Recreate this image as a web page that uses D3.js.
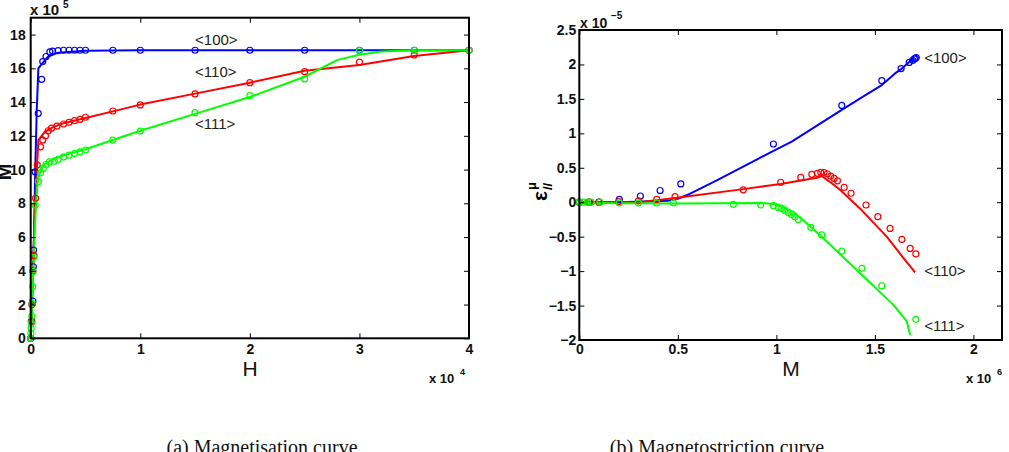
<!DOCTYPE html>
<html><head><meta charset="utf-8">
<script src="https://cdn.jsdelivr.net/npm/d3@7"></script>
<style>body{margin:0;background:#fff} svg{display:block}</style>
</head><body><svg id="c" width="1009" height="452"></svg>
<script>
// ---------- Panel (a): Magnetisation curve, H (x 10^4) vs M (x 10^5) ----------
const aXTicks = [0, 1, 2, 3, 4];
const aYTicks = [0, 2, 4, 6, 8, 10, 12, 14, 16, 18];

const a100LineH = [0, 0.01, 0.02, 0.03, 0.04, 0.055, 0.07, 0.1, 0.16, 0.25, 0.5, 1, 4];
const a100LineM = [0, 1.5, 3.5, 6, 9.5, 13.5, 16.0, 16.25, 16.7, 16.93, 17.04, 17.07, 17.07];
const a110LineH = [0, 0.01, 0.02, 0.03, 0.045, 0.06, 0.07, 0.1, 0.13, 0.2, 0.3, 0.5, 0.75, 1, 1.5, 2, 2.5, 3, 3.5, 4];
const a110LineM = [0, 2, 4, 6, 8.5, 10.5, 11.75, 12.0, 12.25, 12.5, 12.75, 13.05, 13.45, 13.85, 14.5, 15.15, 15.86, 16.2, 16.73, 17.07];
const a111LineH = [0, 0.01, 0.02, 0.03, 0.045, 0.06, 0.07, 0.09, 0.12, 0.2, 0.3, 0.5, 0.75, 1, 1.5, 2, 2.5, 2.8, 3.0, 3.2, 3.5, 4];
const a111LineM = [0, 1.5, 3.5, 5.2, 7.5, 9.0, 9.5, 9.9, 10.3, 10.6, 10.85, 11.2, 11.75, 12.3, 13.3, 14.3, 15.5, 16.5, 16.8, 17.0, 17.07, 17.07];

const a100PtsH = [0, 0.01, 0.02, 0.024, 0.026, 0.04, 0.069, 0.1, 0.11, 0.14, 0.175, 0.2, 0.25, 0.3, 0.35, 0.4, 0.45, 0.5, 0.75, 1, 1.5, 2, 2.5, 3, 3.5, 4];
const a100PtsM = [0, 1.0, 2.2, 4.24, 5.23, 9.87, 13.33, 15.35, 16.4, 16.7, 16.97, 17.02, 17.05, 17.07, 17.07, 17.07, 17.07, 17.07, 17.07, 17.07, 17.07, 17.07, 17.07, 17.07, 17.07, 17.07];
const a110PtsH = [0, 0.005, 0.01, 0.02, 0.03, 0.045, 0.06, 0.09, 0.11, 0.135, 0.16, 0.19, 0.24, 0.3, 0.35, 0.4, 0.45, 0.5, 0.75, 1, 1.5, 2, 2.5, 3, 3.5, 4];
const a110PtsM = [0, 1.0, 2.0, 4.0, 4.9, 8.3, 10.27, 11.35, 11.75, 12.0, 12.3, 12.45, 12.58, 12.7, 12.8, 12.9, 12.98, 13.1, 13.47, 13.83, 14.48, 15.15, 15.8, 16.37, 16.79, 17.07];
const a111PtsH = [0, 0.002, 0.004, 0.006, 0.01, 0.013, 0.018, 0.022, 0.027, 0.04, 0.07, 0.09, 0.115, 0.14, 0.17, 0.215, 0.25, 0.3, 0.35, 0.4, 0.45, 0.5, 0.75, 1, 1.5, 2, 2.5, 3, 3.5, 4];
const a111PtsM = [0, 0.3, 0.6, 0.9, 1.3, 2.07, 3.06, 3.95, 4.8, 7.9, 9.28, 9.8, 10.07, 10.3, 10.45, 10.5, 10.6, 10.75, 10.85, 10.95, 11.05, 11.16, 11.75, 12.28, 13.37, 14.38, 15.37, 17.05, 17.07, 17.07];

// ---------- Panel (b): Magnetostriction curve, M (x 10^6) vs eps (x 10^-5) ----------
const bXTicks = [0, 0.5, 1, 1.5, 2];
const bYTicks = [-2, -1.5, -1, -0.5, 0, 0.5, 1, 1.5, 2, 2.5];

const b100LineM = [0, 0.2, 0.45, 0.5, 0.56, 0.7, 0.917, 0.968, 1.078, 1.2, 1.332, 1.45, 1.535, 1.602, 1.637, 1.687];
const b100LineE = [0, 0, 0.02, 0.05, 0.12, 0.32, 0.645, 0.72, 0.88, 1.1, 1.34, 1.55, 1.70, 1.87, 1.94, 2.07];
const b110LineM = [0, 0.3, 0.393, 0.486, 0.832, 1.022, 1.213, 1.23, 1.27, 1.323, 1.424, 1.56, 1.645, 1.704];
const b110LineE = [0, 0, 0.03, 0.06, 0.19, 0.265, 0.36, 0.38, 0.3, 0.18, -0.09, -0.5, -0.81, -1.02];
const b111LineM = [0, 0.5, 0.917, 1.002, 1.086, 1.171, 1.256, 1.425, 1.594, 1.662, 1.679];
const b111LineE = [-0.01, -0.02, -0.01, -0.03, -0.14, -0.35, -0.57, -1.03, -1.49, -1.73, -1.93];

const b100PtsM = [0, 0.05, 0.1, 0.203, 0.31, 0.41, 0.515, 0.985, 1.332, 1.535, 1.633, 1.674, 1.692, 1.70, 1.705, 1.71];
const b100PtsE = [0, 0, 0, 0.04, 0.09, 0.17, 0.265, 0.845, 1.405, 1.765, 1.94, 2.03, 2.06, 2.08, 2.09, 2.1];
const b110PtsM = [0, 0.05, 0.1, 0.2, 0.3, 0.393, 0.486, 0.832, 1.022, 1.124, 1.18, 1.208, 1.225, 1.242, 1.259, 1.276, 1.293, 1.31, 1.344, 1.379, 1.455, 1.515, 1.577, 1.637, 1.679, 1.708];
const b110PtsE = [0, 0, 0, 0.01, 0.02, 0.04, 0.08, 0.18, 0.29, 0.36, 0.405, 0.42, 0.435, 0.43, 0.41, 0.38, 0.345, 0.31, 0.215, 0.13, -0.04, -0.21, -0.38, -0.54, -0.67, -0.75];
const b111PtsM = [0, 0.02, 0.04, 0.06, 0.105, 0.203, 0.3, 0.393, 0.478, 0.782, 0.921, 0.985, 1.01, 1.027, 1.043, 1.06, 1.077, 1.094, 1.111, 1.175, 1.23, 1.332, 1.434, 1.535, 1.708];
const b111PtsE = [0, 0, 0, 0, 0, -0.01, -0.01, -0.01, -0.01, -0.03, -0.04, -0.05, -0.075, -0.09, -0.115, -0.15, -0.18, -0.21, -0.25, -0.365, -0.475, -0.71, -0.96, -1.215, -1.7];

const seriesNames = ["<100>", "<110>", "<111>"];
const seriesColors = ["#0000ff", "#ff0000", "#00ff00"];

// ---------- drawing ----------
const svg = d3.select("#c");
svg.append("rect").attr("width", 1009).attr("height", 452).attr("fill", "#fff");
const FONT = "'Liberation Sans', Arial, Helvetica, sans-serif";
const zip = (xs, ys) => xs.map((v, i) => [v, ys[i]]);

function panel(cfg) {
  const x = d3.scaleLinear().domain(cfg.xDom).range(cfg.xRange);
  const y = d3.scaleLinear().domain(cfg.yDom).range(cfg.yRange);
  const g = svg.append("g");
  const [x0, x1] = cfg.xRange, [y0, y1] = cfg.yRange;

  const line = d3.line().x(d => x(d[0])).y(d => y(d[1]));
  cfg.lines.forEach((L, i) => {
    g.append("path").datum(L).attr("d", line).attr("fill", "none")
      .attr("stroke", seriesColors[i]).attr("stroke-width", 2).attr("stroke-linejoin", "round");
  });
  cfg.pts.forEach((P, i) => {
    g.append("g").selectAll("circle").data(P).join("circle")
      .attr("cx", d => x(d[0])).attr("cy", d => y(d[1])).attr("r", 3)
      .attr("fill", "none").attr("stroke", seriesColors[i]).attr("stroke-width", 1.2);
  });

  const ax = (gen, tr, ticks, fmt) => {
    const a = g.append("g").attr("transform", tr)
      .call(gen.tickValues(ticks).tickSize(-5).tickPadding(cfg.pad || 4).tickFormat(fmt));
    a.select(".domain").remove();
    a.selectAll("line").attr("stroke", "#000").attr("stroke-width", 1);
    a.selectAll("text").attr("font-family", FONT).attr("font-size", 14)
      .attr("font-weight", "bold").attr("fill", "#111");
    return a;
  };
  ax(d3.axisBottom(x), `translate(0,${y0})`, cfg.xTicks, cfg.xFmt).selectAll("text").attr("dy", "0.8em");
  ax(d3.axisTop(x), `translate(0,${y1})`, cfg.xTicks, () => "");
  ax(d3.axisLeft(y), `translate(${x0},0)`, cfg.yTicks, cfg.yFmt);
  ax(d3.axisRight(y), `translate(${x1},0)`, cfg.yTicks, () => "");

  g.append("rect").attr("x", x0).attr("y", y1).attr("width", x1 - x0).attr("height", y0 - y1)
    .attr("fill", "none").attr("stroke", "#000").attr("stroke-width", 2);

  cfg.notes.forEach((n, i) => {
    g.append("text").attr("x", x(n[0])).attr("y", y(n[1])).attr("dy", "0.35em")
      .attr("font-family", FONT).attr("font-size", 15).attr("fill", "#222").text(seriesNames[i]);
  });
  return { x, y, g };
}

panel({
  xDom: [0, 4], xRange: [30.7, 469], yDom: [0, 19], yRange: [338.3, 17.7],
  xTicks: aXTicks, yTicks: aYTicks, pad: 5,
  xFmt: d3.format("d"), yFmt: d3.format("d"),
  lines: [zip(a100LineH, a100LineM), zip(a110LineH, a110LineM), zip(a111LineH, a111LineM)],
  pts: [zip(a100PtsH, a100PtsM), zip(a110PtsH, a110PtsM), zip(a111PtsH, a111PtsM)],
  notes: [[1.5, 17.7], [1.5, 15.8], [1.5, 12.7]]
});

const fmtB = d => (d < 0 ? "\u2212" : "") + d3.format("")(Math.abs(d));
panel({
  xDom: [0, 2.145], xRange: [579.3, 1002], yDom: [-2, 2.5], yRange: [340, 30],
  xTicks: bXTicks, yTicks: bYTicks, pad: 3,
  xFmt: fmtB, yFmt: fmtB,
  lines: [zip(b100LineM, b100LineE), zip(b110LineM, b110LineE), zip(b111LineM, b111LineE)],
  pts: [zip(b100PtsM, b100PtsE), zip(b110PtsM, b110PtsE), zip(b111PtsM, b111PtsE)],
  notes: [[1.75, 2.1], [1.75, -1.0], [1.75, -1.8]]
});

function txt(x, y, s, size, opts = {}) {
  return svg.append("text").attr("x", x).attr("y", y).attr("font-family", opts.family || FONT)
    .attr("font-size", size).attr("fill", "#111").attr("text-anchor", opts.anchor || "start")
    .attr("font-weight", opts.weight || "normal").text(s);
}
// exponent labels
txt(30, 15, "x 10", 15, { weight: "bold" }); txt(63, 8, "5", 10, { weight: "bold" });
txt(429, 383, "x 10", 13, { weight: "bold" }); txt(460, 375, "4", 9, { weight: "bold" });
txt(580, 28, "x 10", 14, { weight: "bold" }); txt(611, 19, "\u22125", 10, { weight: "bold" });
txt(966, 383, "x 10", 13, { weight: "bold" }); txt(997, 375, "6", 9, { weight: "bold" });

// axis labels
txt(250, 376, "H", 21, { anchor: "middle" });
txt(791, 376, "M", 21, { anchor: "middle" });
svg.append("text").attr("transform", "translate(11,172) rotate(-90)").attr("text-anchor", "middle")
  .attr("font-family", FONT).attr("font-size", 20).attr("font-weight", "bold").attr("fill", "#111").text("M");
const eg = svg.append("g").attr("transform", "translate(547,201) rotate(-90)");
eg.append("text").attr("x", 0).attr("y", 0).attr("font-family", FONT).attr("font-size", 21).attr("font-weight", "bold").text("\u03b5");
eg.append("text").attr("x", 11).attr("y", -11).attr("font-family", FONT).attr("font-size", 13).attr("font-weight", "bold").text("\u03bc");
eg.append("text").attr("x", 11).attr("y", 5).attr("font-family", FONT).attr("font-size", 13).attr("font-weight", "bold").text("//");

// captions
const SERIF = "'Liberation Serif', 'Times New Roman', serif";
txt(262, 454, "(a) Magnetisation curve", 20, { anchor: "middle", family: SERIF });
txt(717, 454, "(b) Magnetostriction curve", 20, { anchor: "middle", family: SERIF });
</script></body></html>
